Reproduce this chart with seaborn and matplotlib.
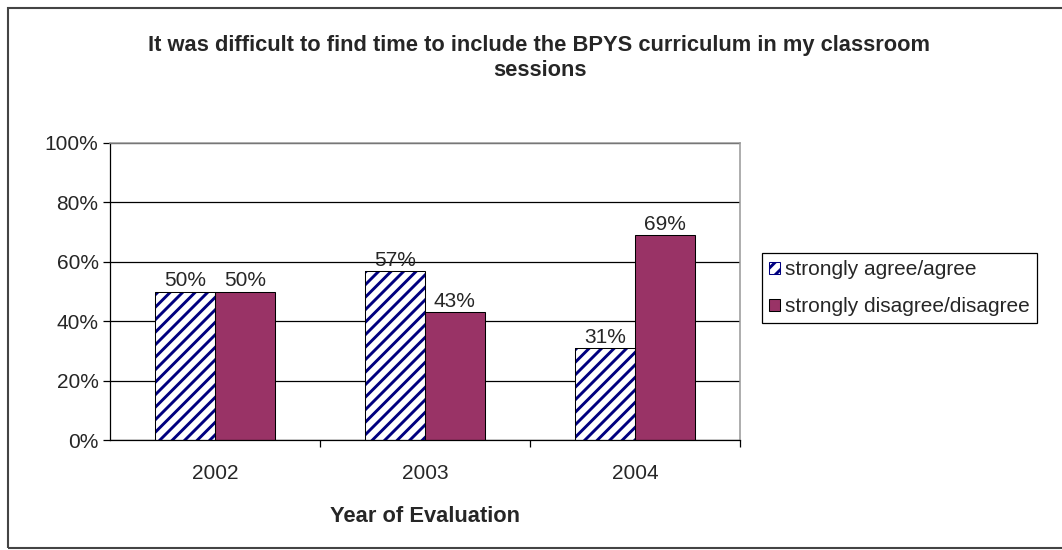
import numpy as np
import pandas as pd
import matplotlib
matplotlib.use("Agg")
import matplotlib.pyplot as plt
from matplotlib.patches import Rectangle
import seaborn as sns

years = ["2002", "2003", "2004"]
agree = [50, 57, 31]
disagree = [50, 43, 69]
series = ["strongly agree/agree", "strongly disagree/disagree"]

df = pd.DataFrame({
    "year": years * 2,
    "pct": agree + disagree,
    "response": [series[0]] * 3 + [series[1]] * 3,
})

sns.set_style("white")
plt.rcParams["font.family"] = ["Liberation Sans", "DejaVu Sans"]
plt.rcParams["hatch.linewidth"] = 2.8

fs = 20

fig = plt.figure(figsize=(1062 / 75, 550 / 75), dpi=75)
ax = fig.add_axes([110 / 1062, 110 / 550, 630 / 1062, 297 / 550])

sns.barplot(data=df, x="year", y="pct", hue="response", ax=ax,
            palette=["white", "#993366"], width=0.57, saturation=1,
            edgecolor="black", linewidth=1.0, legend=True)

# hatched first series, black outline on top
for p in ax.containers[0]:
    p.set_hatch("//")
    p.set_edgecolor("#000080")
    p.set_linewidth(0)
    ax.add_patch(Rectangle(p.get_xy(), p.get_width(), p.get_height(),
                           fill=False, edgecolor="black", linewidth=1.0, zorder=p.get_zorder() + 0.1))

ax.bar_label(ax.containers[0], labels=[f"{v}%" for v in agree], padding=1, fontsize=fs)
ax.bar_label(ax.containers[1], labels=[f"{v}%" for v in disagree], padding=1, fontsize=fs)

ax.set_ylim(0, 100)
ax.set_xlim(-0.5, 2.5)
ax.set_yticks(np.arange(0, 101, 20))
ax.set_yticklabels([f"{t}%" for t in range(0, 101, 20)], fontsize=fs)
ax.set_xticks(range(3))
ax.set_xticklabels(years, fontsize=fs)
ax.yaxis.grid(True, color="black", linewidth=1.2)
ax.set_axisbelow(True)
ax.tick_params(axis="y", which="major", left=True, length=7, width=1.2, color="black", pad=4)
ax.tick_params(axis="x", which="major", bottom=False, pad=20)
ax.set_xticks([0.5, 1.5, 2.5], minor=True)
ax.tick_params(axis="x", which="minor", bottom=True, length=7, width=1.2, color="black")
ax.set_ylabel("")
ax.set_xlabel("Year of Evaluation", fontsize=fs + 1, fontweight="bold", labelpad=22)

for s in ["left", "bottom"]:
    ax.spines[s].set_color("black")
    ax.spines[s].set_linewidth(1.2)
for s in ["top", "right"]:
    ax.spines[s].set_visible(True)
    ax.spines[s].set_color("#999999")
    ax.spines[s].set_linewidth(1.5)

fig.text(0.508, 1 - 58 / 550, "It was difficult to find time to include the BPYS curriculum in my classroom\nsessions",
         ha="center", va="center", fontsize=fs + 1, fontweight="bold", linespacing=1.3)

h, l = ax.get_legend_handles_labels()
ax.legend(h, l, loc="upper left", bbox_to_anchor=(762 / 1062, 1 - 253 / 550),
          bbox_transform=fig.transFigure, borderaxespad=0, fontsize=fs,
          frameon=True, fancybox=False, edgecolor="black", framealpha=1,
          handlelength=0.5, handleheight=0.5, handletextpad=0.25,
          borderpad=0.35, labelspacing=0.85)
leg = ax.get_legend()
leg.get_frame().set_linewidth(1.2)
lh = leg.legend_handles
lh[0].set_hatch("//")
lh[0].set_edgecolor("#000080")

fig.patches.append(Rectangle((8 / 1062, 2 / 550), 1.1, 540 / 550, transform=fig.transFigure,
                             fill=False, edgecolor="#444444", linewidth=2))

fig.savefig("out.png", dpi=75)
